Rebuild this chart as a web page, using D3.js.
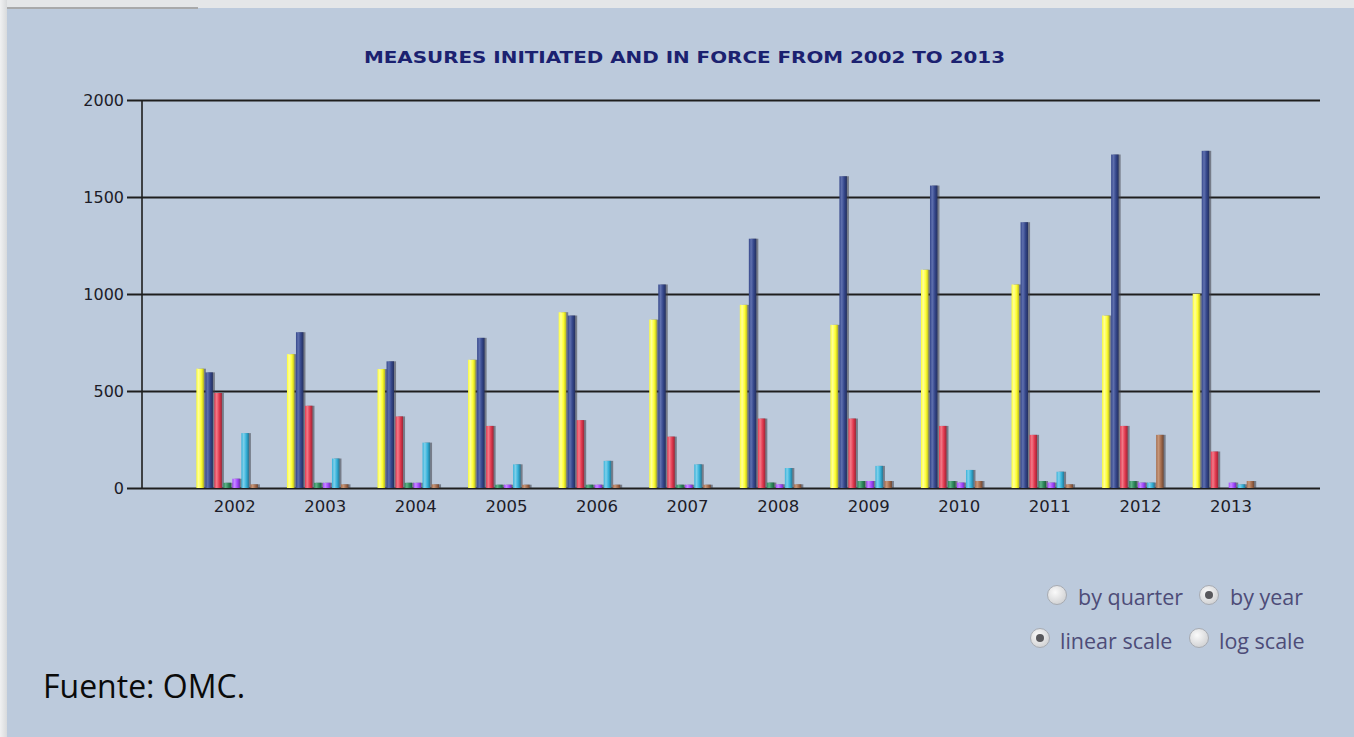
<!DOCTYPE html>
<html>
<head>
<meta charset="utf-8">
<script src="https://cdn.jsdelivr.net/npm/d3@7"></script>
<style>
	html, body { margin: 0; padding: 0; background: #e4e6e8; }
	svg { display: block; }
</style>
</head>
<body>
<svg id="chart" width="1354" height="737"></svg>
<script>
// values, one array per bar colour
const years = ["2002", "2003", "2004", "2005", "2006", "2007", "2008", "2009", "2010", "2011", "2012", "2013"];
const yellowVals = [615, 690, 613, 661, 906, 868, 944, 841, 1125, 1049, 889, 1001];
const navyVals = [596, 803, 653, 774, 889, 1049, 1285, 1607, 1559, 1370, 1719, 1738];
const redVals = [490, 424, 369, 320, 350, 265, 358, 358, 320, 274, 320, 188];
const greenVals = [27, 27, 27, 17, 17, 17, 28, 36, 36, 36, 36, 0];
const purpleVals = [48, 27, 27, 17, 17, 17, 19, 36, 28, 28, 28, 28];
const cyanVals = [283, 152, 234, 122, 140, 122, 103, 114, 93, 84, 28, 19];
const brownVals = [19, 19, 19, 17, 17, 17, 19, 36, 36, 19, 274, 36];
const yTicks = [0, 500, 1000, 1500, 2000];

const series = [
	{ key: "yellow", values: yellowVals, color: "#ffff30", light: "#ffff9a", dark: "#b8b820" },
	{ key: "navy", values: navyVals, color: "#34468a", light: "#5f70ae", dark: "#232f5e" },
	{ key: "red", values: redVals, color: "#e2384e", light: "#f27a88", dark: "#9c2535" },
	{ key: "green", values: greenVals, color: "#2f8a5c", light: "#5fb287", dark: "#1f5e3e" },
	{ key: "purple", values: purpleVals, color: "#a448ff", light: "#c68aff", dark: "#7030b0" },
	{ key: "cyan", values: cyanVals, color: "#36b2da", light: "#7fd0ea", dark: "#237896" },
	{ key: "brown", values: brownVals, color: "#a56c4c", light: "#c6977a", dark: "#6e4632" }
];

const svg = d3.select("#chart");
const defs = svg.append("defs");

// panel behind the chart
const edge = defs.append("linearGradient").attr("id", "edge");
edge.append("stop").attr("offset", "0%").attr("stop-color", "#f0f1f2");
edge.append("stop").attr("offset", "100%").attr("stop-color", "#d8dadc");
svg.append("rect").attr("x", 0).attr("y", 0).attr("width", 7).attr("height", 737).style("fill", "url(#edge)");
svg.append("rect")
	.attr("x", 7).attr("y", 8)
	.attr("width", 1347).attr("height", 729)
	.style("fill", "#bccadc");
svg.append("rect")
	.attr("x", 7).attr("y", 7)
	.attr("width", 191).attr("height", 2)
	.style("fill", "#a8a9aa");

const x = d3.scaleBand()
	.domain(years)
	.range([186.4, 1273.3]);

const inner = d3.scaleBand()
	.domain(series.map(s => s.key))
	.range([-35.3, 27.7]);

const y = d3.scaleLinear()
	.domain([0, 2000])
	.range([488, 100]);

// gridlines with the tick labels
const yAxis = svg.append("g")
	.attr("transform", "translate(127,0)")
	.call(d3.axisLeft(y)
		.tickValues(yTicks)
		.tickSize(-(1320 - 127))
		.tickPadding(3)
		.tickFormat(d3.format("d")));
yAxis.select(".domain").remove();
yAxis.selectAll(".tick line")
	.style("stroke", "#1e1e1e")
	.style("stroke-width", 2);
yAxis.selectAll(".tick text")
	.style("font-family", "DejaVu Sans, Verdana, sans-serif")
	.style("font-size", "16px")
	.style("fill", "#1c1c28");

svg.append("line")
	.attr("x1", 142).attr("x2", 142)
	.attr("y1", 100).attr("y2", 488)
	.style("stroke", "#1e1e1e")
	.style("stroke-width", 1.6);

const xAxis = svg.append("g")
	.attr("transform", "translate(0,488)")
	.call(d3.axisBottom(x).tickSize(0).tickPadding(12));
xAxis.select(".domain").remove();
xAxis.selectAll(".tick text")
	.attr("dx", 3)
	.style("font-family", "DejaVu Sans, Verdana, sans-serif")
	.style("font-size", "16.5px")
	.style("fill", "#1c1c28");

// shaded bar fills
series.forEach(s => {
	const g = defs.append("linearGradient").attr("id", "grad-" + s.key);
	g.append("stop").attr("offset", "0%").attr("stop-color", s.color);
	g.append("stop").attr("offset", "30%").attr("stop-color", s.light);
	g.append("stop").attr("offset", "65%").attr("stop-color", s.color);
	g.append("stop").attr("offset", "100%").attr("stop-color", s.dark);
});

const groups = svg.append("g")
	.selectAll("g")
	.data(years)
	.enter()
	.append("g")
	.attr("transform", d => "translate(" + (x(d) + x.bandwidth() / 2) + ",0)");

const barData = d => {
	const i = years.indexOf(d);
	return series.map(s => ({ key: s.key, value: s.values[i] }));
};

groups.selectAll("rect.shadow")
	.data(barData)
	.enter()
	.filter(b => b.value > 0)
	.append("rect")
	.attr("class", "shadow")
	.attr("x", b => inner(b.key) + 2)
	.attr("y", b => y(b.value))
	.attr("width", inner.bandwidth() - 1.5)
	.attr("height", b => y(0) - y(b.value))
	.style("fill", "rgba(60,60,70,0.55)");

groups.selectAll("rect.bar")
	.data(barData)
	.enter()
	.filter(b => b.value > 0)
	.append("rect")
	.attr("class", "bar")
	.attr("x", b => inner(b.key))
	.attr("y", b => y(b.value))
	.attr("width", inner.bandwidth() - 1.5)
	.attr("height", b => y(0) - y(b.value))
	.style("fill", b => "url(#grad-" + b.key + ")");

svg.append("text")
	.attr("x", 364).attr("y", 63)
	.attr("textLength", 641)
	.attr("lengthAdjust", "spacingAndGlyphs")
	.style("font-family", "DejaVu Sans, Verdana, sans-serif")
	.style("font-weight", "bold")
	.style("font-size", "16px")
	.style("fill", "#1b2170")
	.text("MEASURES INITIATED AND IN FORCE FROM 2002 TO 2013");

// radio buttons
const knob = defs.append("radialGradient").attr("id", "knob")
	.attr("cx", "40%").attr("cy", "35%").attr("r", "70%");
knob.append("stop").attr("offset", "0%").attr("stop-color", "#fafafa");
knob.append("stop").attr("offset", "100%").attr("stop-color", "#cfd0d2");

const radios = [
	{ label: "by quarter", cx: 1057, cy: 595, tx: 1078, ty: 605, on: false },
	{ label: "by year", cx: 1209, cy: 595, tx: 1230, ty: 605, on: true },
	{ label: "linear scale", cx: 1040, cy: 638, tx: 1060, ty: 649, on: true },
	{ label: "log scale", cx: 1199, cy: 638, tx: 1219, ty: 649, on: false }
];

const radio = svg.append("g")
	.selectAll("g")
	.data(radios)
	.enter()
	.append("g");

radio.append("circle")
	.attr("cx", d => d.cx).attr("cy", d => d.cy)
	.attr("r", 9.5)
	.style("fill", "url(#knob)")
	.style("stroke", "#a7abb2")
	.style("stroke-width", 1);

radio.filter(d => d.on)
	.append("circle")
	.attr("cx", d => d.cx).attr("cy", d => d.cy)
	.attr("r", 4)
	.style("fill", "#58585c");

radio.append("text")
	.attr("x", d => d.tx).attr("y", d => d.ty)
	.style("font-family", "Open Sans, sans-serif")
	.style("font-size", "21.5px")
	.style("fill", "#4d4c78")
	.text(d => d.label);

svg.append("text")
	.attr("x", 43).attr("y", 698)
	.style("font-family", "Open Sans, sans-serif")
	.style("font-size", "32px")
	.style("fill", "#0a0a0a")
	.text("Fuente: OMC.");
</script>
</body>
</html>
